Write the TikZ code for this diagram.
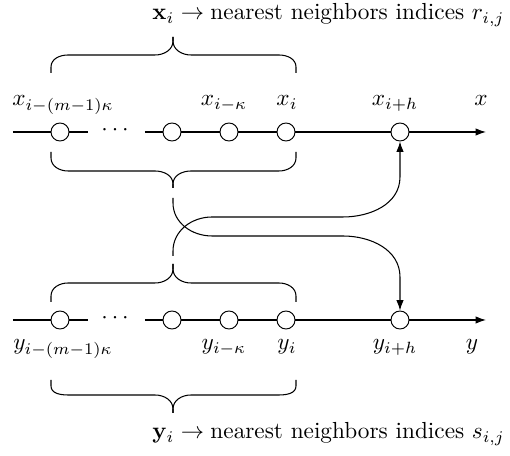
\documentclass[tikz,border=0pt]{standalone}
\usepackage{amsmath,amssymb}
\usetikzlibrary{arrows.meta}
\begin{document}
\begin{tikzpicture}[x=0.43pt,y=-0.43pt,
  pt/.style={circle,draw,fill=white,minimum size=18*0.43pt,inner sep=0pt},
  lbl/.style={anchor=base,inner sep=0pt},
  br/.style={line width=0.45pt},
  conn/.style={line width=0.45pt,-{Latex[length=4.5pt,width=3.2pt]}},
  ax/.style={line width=0.45pt}]
\useasboundingbox (0,0) rectangle (510,456);
% top axis
\foreach \n/\x in {1/60,2/172,3/229,4/286,5/400}{
  \node[pt] (x\n) at (\x,132) {};
  \node[pt] (y\n) at (\x,320) {};
}
\coordinate (xs) at (13,132);
\coordinate (xa) at (88,132);
\coordinate (xb) at (145,132);
\coordinate (xe) at (486,132);
\coordinate (ys) at (13,320);
\coordinate (ya) at (88,320);
\coordinate (yb) at (145,320);
\coordinate (ye) at (486,320);
\draw[ax] (xs) -- (x1) -- (xa);
\draw[ax] (xb) -- (x2) -- (x3) -- (x4) -- (x5);
\draw[ax,-{Latex[length=4.5pt,width=3.2pt]}] (x5) -- (xe);
\draw[ax] (ys) -- (y1) -- (ya);
\draw[ax] (yb) -- (y2) -- (y3) -- (y4) -- (y5);
\draw[ax,-{Latex[length=4.5pt,width=3.2pt]}] (y5) -- (ye);
\node (xdots) at (117,130) {$\cdots$};
\node (ydots) at (117,318) {$\cdots$};
% labels
\node[lbl] (lx1) at (63,106) {$x_{i-(m-1)\kappa}$};
\node[lbl] (lx3) at (224,106) {$x_{i-\kappa}$};
\node[lbl] (lx4) at (287,106) {$x_{i}$};
\node[lbl] (lx5) at (395,106) {$x_{i+h}$};
\node[lbl] (lx) at (481,106) {$x$};
\node[lbl] (ly1) at (63,350) {$y_{i-(m-1)\kappa}$};
\node[lbl] (ly3) at (224,350) {$y_{i-\kappa}$};
\node[lbl] (ly4) at (287,350) {$y_{i}$};
\node[lbl] (ly5) at (395,350) {$y_{i+h}$};
\node[lbl] (ly) at (472,350) {$y$};
\node[anchor=base west,inner sep=0pt] (tx) at (152,20) {$\mathbf{x}_i \rightarrow \text{nearest neighbors indices } r_{i,j}$};
\node[anchor=base west,inner sep=0pt] (ty) at (152,439) {$\mathbf{y}_i \rightarrow \text{nearest neighbors indices } s_{i,j}$};
% braces
\draw[br] (51,73) -- (51,67) to[out=-90+180,in=180] (68,55) -- (155,55) to[out=0,in=-90] (173,41) -- (173,37);
\draw[br] (173,37) -- (173,41) to[out=-90,in=180] (191,55) -- (279,55) to[out=0,in=90] (296,67) -- (296,73);
\draw[br] (51,152) -- (51,158) to[out=-90,in=180] (68,171) -- (155,171) to[out=0,in=90] (173,184) -- (173,188);
\draw[br] (173,188) -- (173,184) to[out=90,in=180] (191,171) -- (279,171) to[out=0,in=-90] (296,158) -- (296,152);
\draw[br] (51,302) -- (51,296) to[out=90,in=180] (68,283) -- (155,283) to[out=0,in=-90] (173,269) -- (173,264);
\draw[br] (173,264) -- (173,269) to[out=-90,in=180] (191,283) -- (279,283) to[out=0,in=90] (296,296) -- (296,302);
\draw[br] (51,380) -- (51,386) to[out=-90,in=180] (68,395) -- (155,395) to[out=0,in=90] (173,409) -- (173,413);
\draw[br] (173,413) -- (173,409) to[out=90,in=180] (191,395) -- (279,395) to[out=0,in=-90] (296,386) -- (296,380);
% connectors
\coordinate (c1) at (173,198);
\coordinate (c2) at (173,256);
\draw[conn] (c1) -- (173,203) to[out=-90,in=180] (212,236) -- (343,236) to[out=0,in=90] (400,277) -- (y5.north);
\draw[conn] (c2) -- (173,251) to[out=90,in=180] (212,217) -- (343,217) to[out=0,in=-90] (400,177) -- (x5.south);
\end{tikzpicture}
\end{document}
